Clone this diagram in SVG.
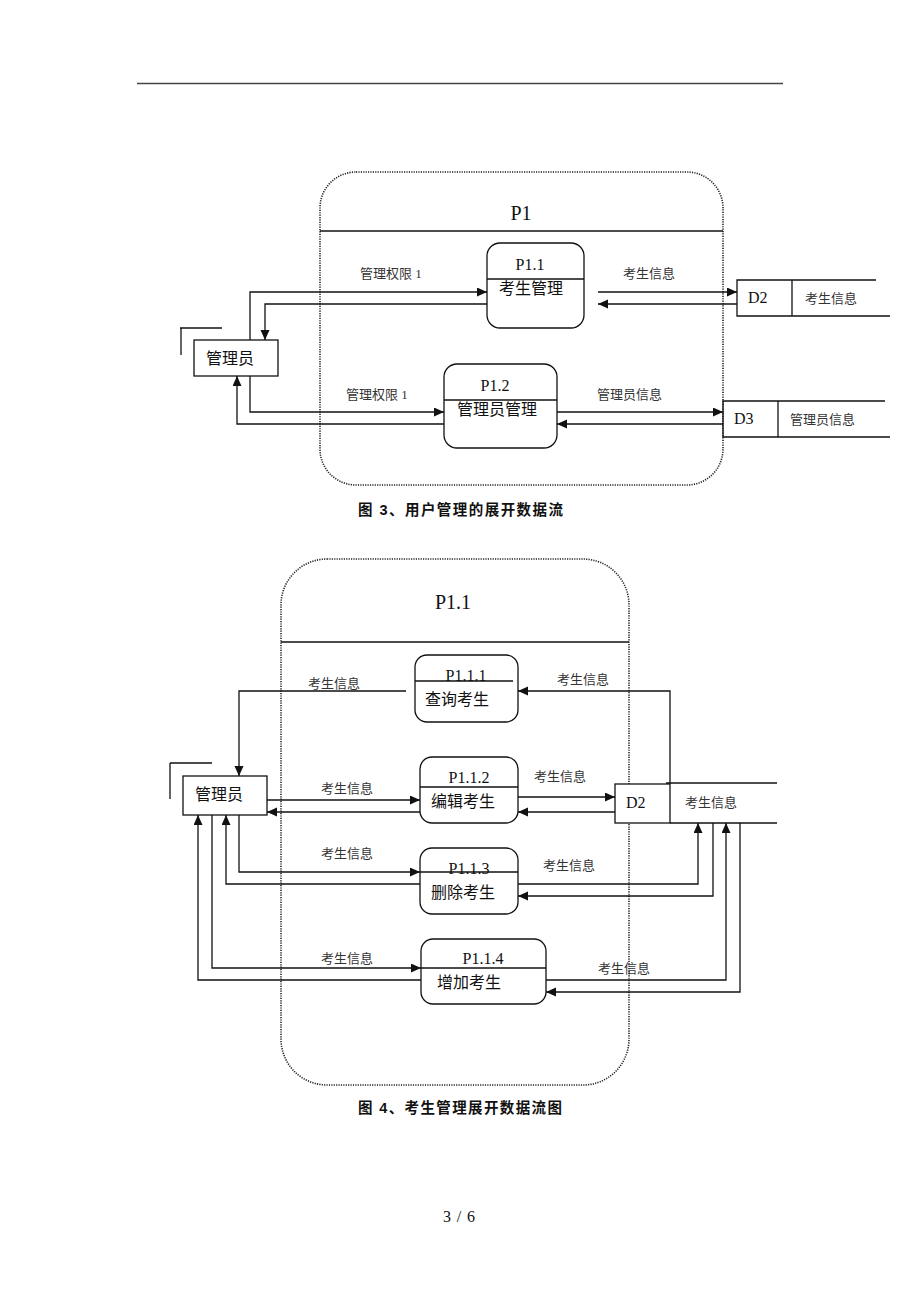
<svg xmlns="http://www.w3.org/2000/svg" width="920" height="1302" viewBox="0 0 920 1302">
<style>
.bg{fill:#ffffff}
.ln{fill:none;stroke:#111;stroke-width:1.3}
.fl{fill:none;stroke:#111;stroke-width:1.3;marker-end:url(#ah)}
.box{fill:#fff;stroke:#111;stroke-width:1.3}
.dot{fill:none;stroke:#222;stroke-width:1.6;stroke-dasharray:1.2 1.2}
.t{font-family:'Liberation Serif','Noto Sans CJK SC',serif;fill:#111}
.lbl{font-family:'Liberation Serif','Noto Sans CJK SC',serif;font-size:13px;fill:#333}
.nm{font-family:'Liberation Serif','Noto Sans CJK SC',serif;font-size:16px;fill:#111}
.cap{font-family:'Liberation Sans','Noto Sans CJK SC',sans-serif;font-size:14.5px;font-weight:bold;fill:#111}
</style>
<defs>
<marker id="ah" markerUnits="userSpaceOnUse" markerWidth="11" markerHeight="10" refX="10" refY="4.5" orient="auto">
<path d="M0,0 L10,4.5 L0,9 z" fill="#111"/>
</marker>
</defs>
<rect class="bg" x="0" y="0" width="920" height="1302"/>
<line x1="137" y1="83.5" x2="783" y2="83.5" stroke="#444" stroke-width="1.5"/>

<!-- Figure 3 -->
<g id="p1-container">
<rect class="dot" x="320" y="172" width="403" height="313" rx="36"/>
<line class="ln" x1="320" y1="231" x2="723" y2="231"/>
<text class="t" x="521" y="220" font-size="20" text-anchor="middle">P1</text>
</g>
<g id="p1-1">
<rect class="box" x="487" y="243" width="97" height="85" rx="13"/>
<line class="ln" x1="487" y1="279" x2="584" y2="279"/>
<text class="nm" x="530" y="270" text-anchor="middle">P1.1</text>
<text class="nm" x="531" y="294" text-anchor="middle">考生管理</text>
</g>
<g id="p1-2">
<rect class="box" x="444" y="364" width="113" height="84" rx="13"/>
<line class="ln" x1="444" y1="400" x2="557" y2="400"/>
<text class="nm" x="495" y="391" text-anchor="middle">P1.2</text>
<text class="nm" x="497" y="415" text-anchor="middle">管理员管理</text>
</g>
<g id="admin-top">
<rect class="box" x="194" y="340" width="84" height="36"/>
<line class="ln" x1="180" y1="328" x2="222" y2="328"/>
<line class="ln" x1="181" y1="328" x2="181" y2="355"/>
<text class="nm" x="206" y="364">管理员</text>
</g>
<g id="d2-top">
<path class="ln" d="M876,280 H737 V316 H890"/>
<line class="ln" x1="792" y1="280" x2="792" y2="316"/>
<text class="nm" x="748" y="303">D2</text>
<text class="lbl" x="805" y="303">考生信息</text>
</g>
<g id="d3-top">
<path class="ln" d="M885,401 H723 V437 H890"/>
<line class="ln" x1="778" y1="401" x2="778" y2="437"/>
<text class="nm" x="734" y="424">D3</text>
<text class="lbl" x="790" y="424">管理员信息</text>
</g>
<g id="connectors-top">
<path class="fl" d="M250,340 V292 H487"/>
<path class="fl" d="M487,304 H265 V340"/>
<path class="fl" d="M250,376 V412 H444"/>
<path class="fl" d="M444,424 H237 V376"/>
<path class="fl" d="M598,292 H737"/>
<path class="fl" d="M737,304 H598"/>
<path class="fl" d="M557,412 H723"/>
<path class="fl" d="M723,424 H557"/>
<text class="lbl" x="360" y="278">管理权限 1</text>
<text class="lbl" x="346" y="399">管理权限 1</text>
<text class="lbl" x="623" y="278">考生信息</text>
<text class="lbl" x="597" y="399">管理员信息</text>
</g>
<text class="cap" x="358" y="515" textLength="205" lengthAdjust="spacing">图 3、用户管理的展开数据流</text>

<!-- Figure 4 -->
<g id="p11-container">
<rect class="dot" x="281" y="559" width="348" height="526" rx="46"/>
<line class="ln" x1="281" y1="642" x2="629" y2="642"/>
<text class="t" x="453" y="609" font-size="20" text-anchor="middle">P1.1</text>
</g>
<g id="p1-1-1">
<rect class="box" x="415" y="655" width="103" height="67" rx="12"/>
<text class="nm" x="466" y="681" text-anchor="middle">P1.1.1</text>
<line class="ln" x1="415" y1="681" x2="513" y2="681"/>
<text class="nm" x="425" y="705">查询考生</text>
</g>
<g id="p1-1-2">
<rect class="box" x="420" y="757" width="98" height="66" rx="12"/>
<line class="ln" x1="420" y1="787" x2="518" y2="787"/>
<text class="nm" x="469" y="783" text-anchor="middle">P1.1.2</text>
<text class="nm" x="431" y="807">编辑考生</text>
</g>
<g id="p1-1-3">
<rect class="box" x="420" y="848" width="98" height="66" rx="12"/>
<text class="nm" x="469" y="874" text-anchor="middle">P1.1.3</text>
<line class="ln" x1="420" y1="872" x2="518" y2="872"/>
<text class="nm" x="431" y="898">删除考生</text>
</g>
<g id="p1-1-4">
<rect class="box" x="421" y="939" width="125" height="65" rx="12"/>
<line class="ln" x1="421" y1="968" x2="546" y2="968"/>
<text class="nm" x="483" y="964" text-anchor="middle">P1.1.4</text>
<text class="nm" x="437" y="988">增加考生</text>
</g>
<g id="admin-bottom">
<rect class="box" x="183" y="776" width="84" height="39"/>
<line class="ln" x1="170" y1="763" x2="212" y2="763"/>
<line class="ln" x1="170" y1="763" x2="170" y2="799"/>
<text class="nm" x="195" y="800">管理员</text>
</g>
<g id="d2-bottom">
<rect class="box" x="615" y="784" width="55" height="39"/>
<line class="ln" x1="666" y1="783" x2="777" y2="783"/>
<line class="ln" x1="670" y1="823" x2="777" y2="823"/>
<text class="nm" x="626" y="808">D2</text>
<text class="lbl" x="685" y="807">考生信息</text>
</g>
<g id="connectors-bottom">
<path class="fl" d="M406,691 H239 V776"/>
<path class="fl" d="M670,784 V691 H518"/>
<path class="fl" d="M267,800 H420"/>
<path class="fl" d="M420,812 H267"/>
<path class="fl" d="M518,797 H615"/>
<path class="fl" d="M615,812 H518"/>
<path class="fl" d="M239,815 V872 H420"/>
<path class="fl" d="M420,884 H226 V815"/>
<path class="fl" d="M518,884 H698 V823"/>
<path class="fl" d="M713,823 V896 H518"/>
<path class="fl" d="M212,815 V968 H421"/>
<path class="fl" d="M421,980 H198 V815"/>
<path class="fl" d="M546,980 H726 V823"/>
<path class="fl" d="M740,823 V992 H546"/>
<text class="lbl" x="308" y="688">考生信息</text>
<text class="lbl" x="557" y="684">考生信息</text>
<text class="lbl" x="321" y="793">考生信息</text>
<text class="lbl" x="534" y="781">考生信息</text>
<text class="lbl" x="321" y="858">考生信息</text>
<text class="lbl" x="543" y="870">考生信息</text>
<text class="lbl" x="321" y="963">考生信息</text>
<text class="lbl" x="598" y="973">考生信息</text>
</g>
<text class="cap" x="358" y="1113" textLength="204" lengthAdjust="spacing">图 4、考生管理展开数据流图</text>
<text class="t" x="443" y="1222" font-size="16" textLength="32" lengthAdjust="spacing">3 / 6</text>
</svg>
